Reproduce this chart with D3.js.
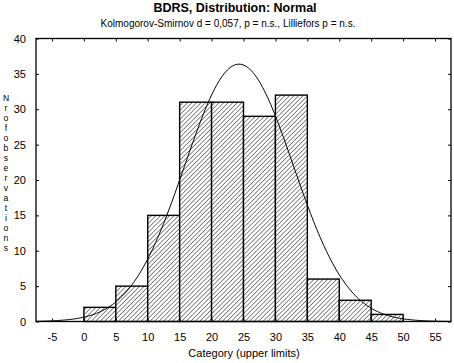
<!DOCTYPE html>
<html>
<head>
<meta charset="utf-8">
<script src="https://cdn.jsdelivr.net/npm/d3@7"></script>
<style>
  body { margin: 0; background: #fff; }
  text { font-family: "Liberation Sans", Arial, sans-serif; fill: #000; }
</style>
</head>
<body>
<svg id="chart"></svg>
<script>
// histogram bins (upper limits) and counts
const binStarts = [0, 5, 10, 15, 20, 25, 30, 35, 40, 45];
const binWidth = 5;
const counts = [2, 5, 15, 31, 31, 29, 32, 6, 3, 1];
const xTicks = [-5, 0, 5, 10, 15, 20, 25, 30, 35, 40, 45, 50, 55];
const yTicks = [0, 5, 10, 15, 20, 25, 30, 35, 40];
// fitted normal
const fitMean = 24.3;
const fitSd = 8.5;

const W = 454, H = 363;
const margin = { top: 38.5, right: 3, bottom: 41.5, left: 36 };

const svg = d3.select("#chart").attr("width", W).attr("height", H);

const x = d3.scaleLinear().domain([-7.5, 57.5]).range([margin.left, W - margin.right]);
const y = d3.scaleLinear().domain([0, 40]).range([H - margin.bottom, margin.top]);

// hatch pattern
const defs = svg.append("defs");
const pat = defs.append("pattern")
    .attr("id", "hatch")
    .attr("patternUnits", "userSpaceOnUse")
    .attr("width", 3.2).attr("height", 3.2)
    .attr("patternTransform", "rotate(45)");
pat.append("rect").attr("width", 3.2).attr("height", 3.2).attr("fill", "#fff");
pat.append("line")
    .attr("x1", 0).attr("y1", 0).attr("x2", 0).attr("y2", 3.2)
    .attr("stroke", "#000").attr("stroke-width", 0.9);

defs.append("clipPath").attr("id", "clip")
  .append("rect")
    .attr("x", x(-7.5)).attr("y", y(40))
    .attr("width", x(57.5) - x(-7.5)).attr("height", y(0) - y(40));

// bars
svg.selectAll(".bar")
    .data(counts)
    .enter().append("rect")
    .attr("class", "bar")
    .attr("x", (d, i) => x(binStarts[i]))
    .attr("width", (d, i) => x(binStarts[i] + binWidth) - x(binStarts[i]))
    .attr("y", d => y(d))
    .attr("height", d => y(0) - y(d))
    .attr("fill", "url(#hatch)")
    .attr("stroke", "#000")
    .attr("stroke-width", 1.4);

// expected normal curve
const total = d3.sum(counts);
const curvePts = d3.range(-7.5, 57.6, 0.25).map(v => ({
    v: v,
    f: total * binWidth / (fitSd * Math.sqrt(2 * Math.PI)) * Math.exp(-0.5 * Math.pow((v - fitMean) / fitSd, 2))
}));
svg.append("path")
    .datum(curvePts)
    .attr("clip-path", "url(#clip)")
    .attr("fill", "none")
    .attr("stroke", "#000")
    .attr("stroke-width", 1)
    .attr("d", d3.line().x(d => x(d.v)).y(d => y(d.f)));

// frame
svg.append("rect")
    .attr("x", x(-7.5)).attr("y", y(40))
    .attr("width", x(57.5) - x(-7.5)).attr("height", y(0) - y(40))
    .attr("fill", "none").attr("stroke", "#000").attr("stroke-width", 1.3);

// axes (ticks point inward)
const axFont = g => g.selectAll("text").style("font-size", "11px").style("font-family", "Liberation Sans, Arial, sans-serif");

svg.append("g")
    .attr("transform", `translate(0,${y(0)})`)
    .call(d3.axisBottom(x).tickValues(xTicks).tickFormat(d => String(d))
        .tickSizeInner(-3).tickSizeOuter(0).tickPadding(12))
    .call(g => g.select(".domain").remove())
    .call(axFont);

svg.append("g")
    .attr("transform", `translate(0,${y(40)})`)
    .call(d3.axisTop(x).tickValues(xTicks).tickSizeInner(-3).tickSizeOuter(0).tickFormat(""))
    .call(g => g.select(".domain").remove());

svg.append("g")
    .attr("transform", `translate(${x(-7.5)},0)`)
    .call(d3.axisLeft(y).tickValues(yTicks).tickSizeInner(-3).tickSizeOuter(0).tickPadding(10))
    .call(g => g.select(".domain").remove())
    .call(axFont);

svg.append("g")
    .attr("transform", `translate(${x(57.5)},0)`)
    .call(d3.axisRight(y).tickValues(yTicks).tickSizeInner(-3).tickSizeOuter(0).tickFormat(""))
    .call(g => g.select(".domain").remove());

// titles
svg.append("text")
    .attr("x", 235).attr("y", 12)
    .attr("text-anchor", "middle")
    .style("font-size", "12.5px").style("font-weight", "bold")
    .text("BDRS, Distribution: Normal");

svg.append("text")
    .attr("x", 228).attr("y", 27)
    .attr("text-anchor", "middle")
    .style("font-size", "10px")
    .text("Kolmogorov-Smirnov d = 0,057, p = n.s., Lilliefors p = n.s.");

svg.append("text")
    .attr("x", 244).attr("y", 357)
    .attr("text-anchor", "middle")
    .style("font-size", "11px")
    .text("Category (upper limits)");

// stacked vertical y label, one letter per line
const yLabel = "Nrofobservations".split("");
svg.selectAll(".ylab")
    .data(yLabel)
    .enter().append("text")
    .attr("class", "ylab")
    .attr("text-anchor", "middle")
    .style("font-size", "8.6px")
    .attr("x", 6)
    .attr("y", (d, i) => 101 + i * 10)
    .text(d => d);
</script>
</body>
</html>
